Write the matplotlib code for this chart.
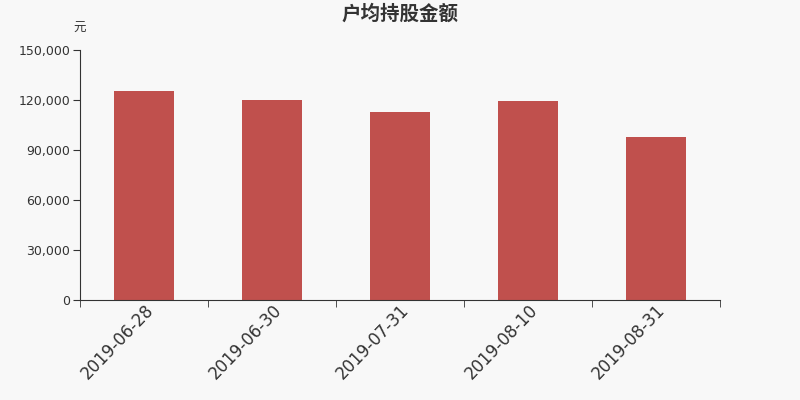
import matplotlib.pyplot as plt

plt.rcParams['font.family'] = ['Noto Sans CJK SC', 'DejaVu Sans']

dates = ['2019-06-28', '2019-06-30', '2019-07-31', '2019-08-10', '2019-08-31']
amounts = [125400, 119900, 112800, 119300, 97800]
yticks = [0, 30000, 60000, 90000, 120000, 150000]

bg = '#f8f8f8'
dark = '#333333'

fig = plt.figure(figsize=(8, 4), dpi=100, facecolor=bg)
ax = fig.add_axes([0.1, 0.25, 0.8, 0.625], facecolor=bg)

x = list(range(len(dates)))
ax.bar(x, amounts, width=0.47, color='#c0504d', zorder=2)

ax.set_xlim(-0.5, len(dates) - 0.5)
ax.set_ylim(0, 150000)
ax.set_yticks(yticks)
ax.set_yticklabels([f'{v:,}' for v in yticks], fontsize=9, color=dark,
                   family=['DejaVu Sans'])

ax.set_xticks(x)
ax.set_xticklabels(dates, rotation=46, ha='right', rotation_mode='anchor',
                   fontsize=12, color=dark, family=['DejaVu Sans'])
ax.tick_params(axis='x', length=0, pad=1)
# category boundary ticks
ax.set_xticks([i - 0.5 for i in range(len(dates) + 1)], minor=True)
ax.tick_params(axis='x', which='minor', length=5, color=dark)
ax.tick_params(axis='y', length=5, color=dark, pad=2)

for s in ['top', 'right']:
    ax.spines[s].set_visible(False)
for s in ['left', 'bottom']:
    ax.spines[s].set_color(dark)

fig.text(0.5, 0.965, '户均持股金额', ha='center', va='center', fontsize=14,
         fontweight='bold', color=dark)
fig.text(0.1, 0.928, '元', ha='center', va='center', fontsize=9, color=dark)

fig.savefig('out.png', dpi=100, facecolor=bg)
